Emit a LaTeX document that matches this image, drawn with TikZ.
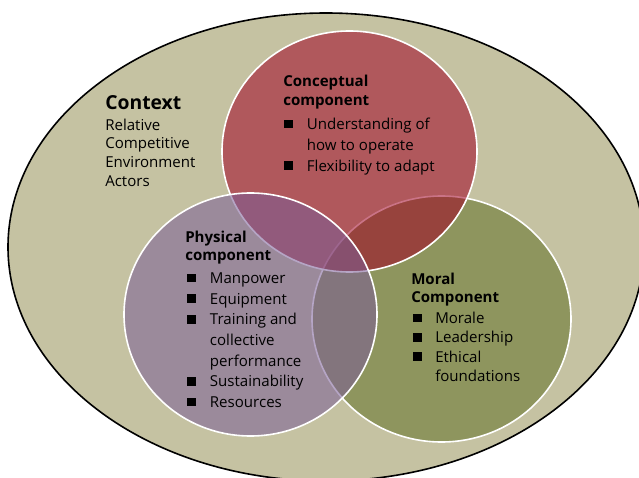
\documentclass[tikz,border=0pt]{standalone}
\usepackage{fontspec}
\setmainfont{Open Sans}
\usetikzlibrary{positioning}

\definecolor{contextfill}{RGB}{197,194,162}
\definecolor{moralfill}{RGB}{142,149,94}
\definecolor{conceptfill}{RGB}{159,1,35}
\definecolor{physicalfill}{RGB}{122,92,151}

\newcommand{\bul}{\rule[0.8pt]{6.5pt}{6.5pt}}

\begin{document}
\begin{tikzpicture}[x=0.75pt,y=-0.75pt,
  ring/.style={draw=white,line width=1.2pt},
  heading/.style={anchor=base west,inner sep=0pt,font=\bfseries\fontsize{11.3}{13.8}\selectfont},
  listtext/.style={anchor=base west,inner sep=0pt,font=\fontsize{11.3}{15}\selectfont}]
  \useasboundingbox (0,0) rectangle (639,478);
  \clip (0,0) rectangle (639,478);

  % Context (outer ellipse)
  \fill[contextfill] (326,247) ellipse [x radius=318,y radius=234];
  \draw[line width=1.2pt] (326,247) ellipse [x radius=318,y radius=234];

  % Three components, bottom to top
  \fill[moralfill] (441.5,319) ellipse [x radius=129.5,y radius=123];
  \draw[ring] (441.5,319) ellipse [x radius=129.5,y radius=123];
  \fill[conceptfill,fill opacity=0.55] (349.5,151.5) ellipse [x radius=127.5,y radius=120.5];
  \draw[ring] (349.5,151.5) ellipse [x radius=127.5,y radius=120.5];
  \fill[physicalfill,fill opacity=0.55] (250.5,314.5) ellipse [x radius=126.5,y radius=121.5];
  \draw[ring] (250.5,314.5) ellipse [x radius=126.5,y radius=121.5];

  % Context text
  \node[anchor=base west,inner sep=0pt,font=\bfseries\fontsize{14.5}{17}\selectfont] (context) at (105,109) {Context};
  \node[listtext,font=\fontsize{11.3}{14.2}\selectfont] (contextlist) at (105,130)
    {\begin{tabular}[t]{@{}l@{}}Relative\\ Competitive\\ Environment\\ Actors\end{tabular}};

  % Conceptual component
  \node[heading] (concept) at (283,87)
    {\begin{tabular}[t]{@{}l@{}}Conceptual\\ component\end{tabular}};
  \node[listtext,font=\fontsize{11.3}{15.6}\selectfont] (conceptlist) at (284,129.5)
    {\begin{tabular}[t]{@{}l@{\hspace{10.5pt}}l@{}}
      \bul & Understanding of\\
           & how to operate\\
      \bul & Flexibility to adapt
    \end{tabular}};

  % Physical component
  \node[heading,font=\bfseries\fontsize{11.3}{13.2}\selectfont] (physical) at (185,242.5)
    {\begin{tabular}[t]{@{}l@{}}Physical\\ component\end{tabular}};
  \node[listtext,font=\fontsize{11.3}{15.5}\selectfont] (physicallist) at (187,283.5)
    {\begin{tabular}[t]{@{}l@{\hspace{10.5pt}}l@{}}
      \bul & Manpower\\
      \bul & Equipment\\
      \bul & Training and\\
           & collective\\
           & performance\\
      \bul & Sustainability\\
      \bul & Resources
    \end{tabular}};

  % Moral component
  \node[heading] (moral) at (411,284.5)
    {\begin{tabular}[t]{@{}l@{}}Moral\\ Component\end{tabular}};
  \node[listtext,font=\fontsize{11.3}{14.5}\selectfont] (morallist) at (413,323.5)
    {\begin{tabular}[t]{@{}l@{\hspace{10pt}}l@{}}
      \bul & Morale\\
      \bul & Leadership\\
      \bul & Ethical\\
           & foundations
    \end{tabular}};
\end{tikzpicture}
\end{document}
